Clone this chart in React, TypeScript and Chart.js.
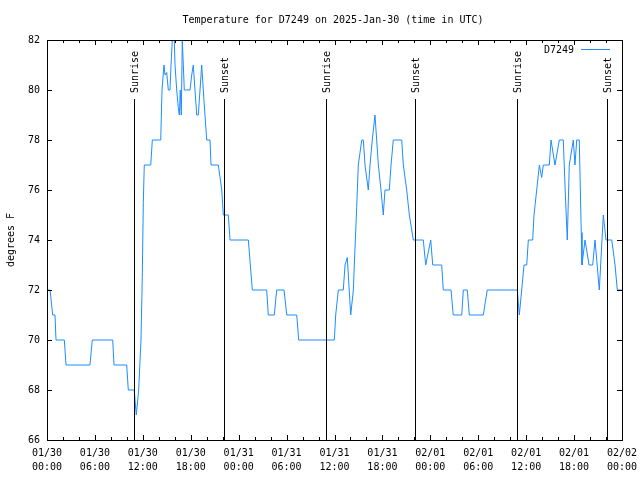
import React, { useEffect, useRef } from "react";
import { Chart, registerables } from "chart.js";

Chart.register(...registerables);

// Hours since 2025-01-30 00:00 UTC
const hours = [0, 0.38, 0.71, 1.0, 1.13, 2.17, 2.38, 5.38, 5.67, 8.23, 8.39, 9.98, 10.18, 10.93, 11.02, 11.18, 11.36, 11.48, 11.77, 11.93, 12.06, 12.18, 12.99, 13.19, 14.24, 14.4, 14.65, 14.78, 14.99, 15.19, 15.4, 15.53, 15.69, 15.94, 16.03, 16.24, 16.44, 16.57, 16.69, 16.82, 16.94, 17.07, 17.19, 17.91, 18.12, 18.32, 18.53, 18.75, 18.95, 19.16, 19.37, 19.57, 19.78, 20.0, 20.41, 20.54, 21.45, 21.88, 22.08, 22.7, 22.92, 25.21, 25.71, 27.51, 27.71, 28.46, 28.76, 29.68, 30.02, 31.27, 31.52, 35.98, 36.15, 36.48, 37.1, 37.32, 37.6, 38.03, 38.36, 38.48, 38.78, 38.98, 39.41, 39.61, 39.82, 40.23, 40.45, 40.73, 41.07, 41.49, 41.82, 42.11, 42.32, 42.86, 43.08, 43.36, 44.42, 44.62, 45.04, 45.37, 45.87, 47.12, 47.42, 48.05, 48.3, 49.42, 49.62, 50.59, 50.87, 51.93, 52.13, 52.63, 52.88, 54.63, 55.13, 58.89, 59.14, 59.44, 59.73, 60.07, 60.27, 60.82, 60.98, 61.32, 61.65, 61.94, 62.15, 62.36, 62.9, 63.11, 63.61, 64.15, 64.65, 64.86, 65.15, 65.4, 65.9, 66.11, 66.33, 66.65, 66.9, 66.99, 67.37, 67.87, 68.33, 68.62, 69.16, 69.66, 70.0, 70.72, 71.13, 71.41, 72];

const temps = [72, 72, 71, 71, 70, 70, 69, 69, 70, 70, 69, 69, 68, 68, 67.6, 67, 67.6, 68, 70, 72.5, 75.5, 77, 77, 78, 78, 80, 81, 80.6, 80.7, 80, 80, 81, 82, 82, 81, 80, 79.3, 79, 80, 79, 82, 81, 80, 80, 80.6, 81, 80, 79, 79, 80, 81, 80, 79, 78, 78, 77, 77, 76, 75, 75, 74, 74, 72, 72, 71, 71, 72, 72, 71, 71, 70, 70, 71, 72, 72, 73, 73.3, 71, 72, 73, 75.3, 77, 78, 78, 77, 76, 77, 78, 79, 77, 76, 75, 76, 76, 77, 78, 78, 77, 76, 75, 74, 74, 73, 74, 73, 73, 72, 72, 71, 71, 72, 72, 71, 71, 72, 72, 71, 72, 73, 73, 74, 74, 75, 76, 77, 76.5, 77, 77, 77, 78, 77, 78, 78, 76.2, 74, 77, 78, 77, 78, 78, 74.3, 73, 74, 73, 73, 74, 72, 75, 74, 74, 73, 72, 72];

const sunEventHours = [10.95, 22.18, 34.98, 46.14, 58.89, 70.15];
const sunEventLabels = ["Sunrise", "Sunset", "Sunrise", "Sunset", "Sunrise", "Sunset"];

const xTickDates = ["01/30", "01/30", "01/30", "01/30", "01/31", "01/31", "01/31", "01/31", "02/01", "02/01", "02/01", "02/01", "02/02"];
const xTickTimes = ["00:00", "06:00", "12:00", "18:00", "00:00", "06:00", "12:00", "18:00", "00:00", "06:00", "12:00", "18:00", "00:00"];

const seriesName = "D7249";
const titleText = "Temperature for D7249 on 2025-Jan-30 (time in UTC)";
const yAxisTitle = "degrees F";

const LINE_COLOR = "#1E8CFF";
const MONO = "'DejaVu Sans Mono', monospace";

const decorPlugin = {
  id: "decor",
  beforeDraw(chart: any) {
    const { ctx, width, height } = chart;
    ctx.save();
    ctx.fillStyle = "#ffffff";
    ctx.fillRect(0, 0, width, height);
    ctx.restore();
  },
  afterDatasetsDraw(chart: any) {
    const { ctx, chartArea, scales } = chart;
    const { left, right, top, bottom } = chartArea;
    const xs = scales.x;
    const ys = scales.y;
    ctx.save();
    ctx.strokeStyle = "#000";
    ctx.lineWidth = 1;

    // sun event lines & labels
    ctx.font = `10px ${MONO}`;
    ctx.fillStyle = "#000";
    sunEventHours.forEach((h, i) => {
      const px = Math.round(xs.getPixelForValue(h)) + 0.5;
      ctx.beginPath();
      ctx.moveTo(px, 99);
      ctx.lineTo(px, bottom);
      ctx.stroke();
      ctx.save();
      ctx.translate(px + 1, 93);
      ctx.rotate(-Math.PI / 2);
      ctx.textAlign = "left";
      ctx.textBaseline = "middle";
      ctx.fillText(sunEventLabels[i], 0, 0);
      ctx.restore();
    });

    // frame
    ctx.strokeRect(Math.round(left) + 0.5, Math.round(top) + 0.5, Math.round(right - left), Math.round(bottom - top));

    // x ticks (bottom + top mirror)
    for (let h = 0; h <= 72; h += 2) {
      const px = Math.round(xs.getPixelForValue(h)) + 0.5;
      const len = h % 6 === 0 ? 5 : 3;
      ctx.beginPath();
      ctx.moveTo(px, bottom);
      ctx.lineTo(px, bottom - len);
      ctx.moveTo(px, top);
      ctx.lineTo(px, top + len);
      ctx.stroke();
    }
    // y ticks (left + right mirror)
    for (let v = 66; v <= 82; v += 2) {
      const py = Math.round(ys.getPixelForValue(v)) + 0.5;
      ctx.beginPath();
      ctx.moveTo(left, py);
      ctx.lineTo(left + 5, py);
      ctx.moveTo(right, py);
      ctx.lineTo(right - 5, py);
      ctx.stroke();
    }

    // legend
    ctx.font = `10px ${MONO}`;
    ctx.textAlign = "right";
    ctx.textBaseline = "middle";
    ctx.fillStyle = "#000";
    ctx.fillText(seriesName, 574, 50);
    ctx.strokeStyle = LINE_COLOR;
    ctx.beginPath();
    ctx.moveTo(581, 49.5);
    ctx.lineTo(610, 49.5);
    ctx.stroke();

    // title
    ctx.fillStyle = "#000";
    ctx.textAlign = "center";
    ctx.textBaseline = "middle";
    ctx.fillText(titleText, 333, 20);

    // y axis title
    ctx.save();
    ctx.translate(11, 240);
    ctx.rotate(-Math.PI / 2);
    ctx.textAlign = "center";
    ctx.textBaseline = "middle";
    ctx.font = `10px ${MONO}`;
    ctx.fillText(yAxisTitle, 0, 0);
    ctx.restore();

    ctx.restore();
  },
};

export default function App() {
  const canvasRef = useRef<HTMLCanvasElement | null>(null);

  useEffect(() => {
    if (!canvasRef.current) return;
    const points = hours.map((h, i) => ({ x: h, y: temps[i] }));
    const chart = new Chart(canvasRef.current, {
      type: "line",
      data: {
        datasets: [
          {
            label: seriesName,
            data: points,
            borderColor: LINE_COLOR,
            backgroundColor: LINE_COLOR,
            borderWidth: 1,
            pointRadius: 0,
            tension: 0,
            fill: false,
          },
        ],
      },
      options: {
        responsive: false,
        animation: false,
        events: [],
        layout: { padding: { top: 40, right: 18, left: 0, bottom: 0 } },
        plugins: {
          legend: { display: false },
          title: { display: false },
          tooltip: { enabled: false },
        },
        scales: {
          x: {
            type: "linear",
            min: 0,
            max: 72,
            grid: { display: false, drawTicks: false },
            border: { display: false },
            afterFit: (s: any) => {
              s.height = 40;
              s.paddingLeft = 0;
              s.paddingRight = 0;
            },
            afterBuildTicks: (s: any) => {
              s.ticks = xTickDates.map((_, i) => ({ value: i * 6 }));
            },
            ticks: {
              autoSkip: false,
              maxRotation: 0,
              minRotation: 0,
              padding: 6,
              color: "#000",
              font: { family: MONO, size: 10, lineHeight: 1.4 },
              callback: (v: any) => {
                const i = Math.round(Number(v) / 6);
                return [xTickDates[i], xTickTimes[i]];
              },
            },
          },
          y: {
            min: 66,
            max: 82,
            grid: { display: false, drawTicks: false },
            border: { display: false },
            afterFit: (s: any) => {
              s.width = 47;
              s.paddingTop = 0;
              s.paddingBottom = 0;
            },
            ticks: {
              stepSize: 2,
              padding: 7,
              color: "#000",
              font: { family: MONO, size: 10 },
            },
          },
        },
      },
      plugins: [decorPlugin],
    });
    return () => chart.destroy();
  }, []);

  return (
    <div style={{ position: "fixed", left: 0, top: 0, width: 640, height: 480 }}>
      <canvas ref={canvasRef} width={640} height={480} />
    </div>
  );
}
